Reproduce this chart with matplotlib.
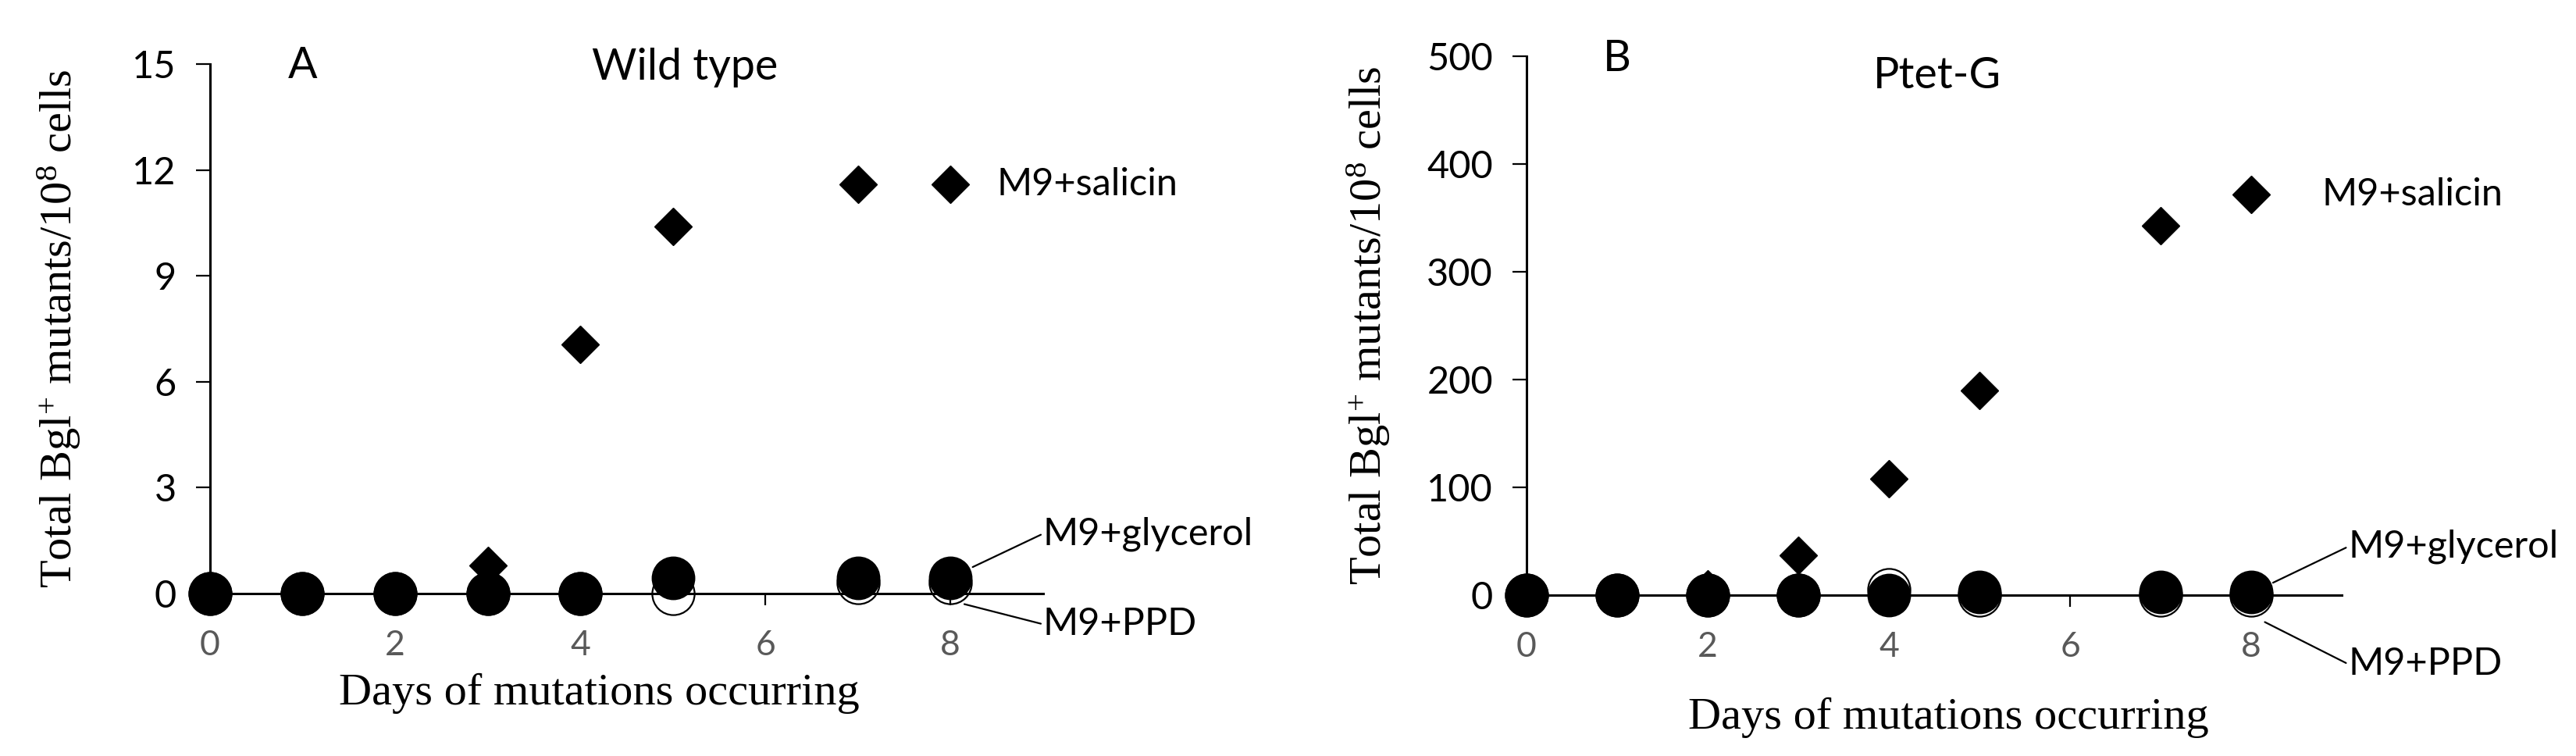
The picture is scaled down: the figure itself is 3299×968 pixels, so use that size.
import matplotlib
matplotlib.use("Agg")
import matplotlib.pyplot as plt

plt.rcParams["font.family"] = ["Lato", "DejaVu Sans"]
plt.rcParams["mathtext.fontset"] = "custom"
plt.rcParams["mathtext.rm"] = "Liberation Serif"
plt.rcParams["mathtext.it"] = "Liberation Serif:italic"

# days sampled (no day 6)
days = [0, 1, 2, 3, 4, 5, 7, 8]

# panel A, wild type
wt_salicin = [0, 0, 0, 0.8, 7.05, 10.4, 11.6, 11.6]
wt_glycerol = [0, 0, 0, 0, 0, 0.45, 0.45, 0.45]
wt_ppd = [0, 0, 0, 0, 0, 0, 0.3, 0.3]

# panel B, Ptet-G
pg_salicin = [0, 0, 6, 37, 108, 190, 343, 372]
pg_glycerol = [0, 0, 0, 0, 0, 3, 3, 3]
pg_ppd = [0, 0, 0, 0, 5, 0, 0, 0]

x_ticks = [0, 2, 4, 6, 8]
wt_yticks = [0, 3, 6, 9, 12, 15]
pg_yticks = [0, 100, 200, 300, 400, 500]

YLABEL = "Total Bgl$^{+}$ mutants/10$^{8}$ cells"
XLABEL = "Days of mutations occurring"
SERIF = "Liberation Serif"
TICK_GRAY = "#595959"


def draw_panel(ax, salicin, glycerol, ppd, yticks, letter, title, cfg):
    top = yticks[-1]
    ax.plot(days, ppd, "o", ms=39, mfc="none", mec="black", mew=1.6,
            clip_on=False, zorder=3)
    ax.plot(days, glycerol, "o", ms=39, mfc="black", mec="black", mew=1.2,
            clip_on=False, zorder=4)
    ax.plot(days, salicin, "D", ms=24, mfc="black", mec="black", mew=1,
            clip_on=False, zorder=5)

    ax.set_xlim(0, 9)
    ax.set_ylim(0, top)
    ax.set_xticks(x_ticks)
    ax.set_yticks(yticks)
    for side in ("top", "right"):
        ax.spines[side].set_visible(False)
    for side in ("left", "bottom"):
        ax.spines[side].set_linewidth(2.2)
    ax.tick_params(axis="y", direction="out", length=13, width=1.6,
                   pad=18, labelsize=35, labelcolor="black")
    ax.tick_params(axis="x", direction="out", length=11, width=1.6,
                   pad=22, labelsize=32, labelcolor=TICK_GRAY)

    ax.set_ylabel(YLABEL, family=SERIF, fontsize=42)
    ax.yaxis.set_label_coords(cfg["ylab_x"], 0.5)
    ax.set_xlabel(XLABEL, family=SERIF, fontsize=42)
    ax.xaxis.set_label_coords(cfg["xlab_x"], cfg["xlab_y"])

    ax.text(1.0, cfg["letter_y"] * top, letter, fontsize=40,
            ha="center", va="baseline")
    ax.text(cfg["title_x"], cfg["title_y"] * top, title, fontsize=40,
            ha="center", va="baseline")

    ax.text(cfg["sal_x"], salicin[-1], "M9+salicin", fontsize=35,
            ha="left", va="center")
    line = dict(arrowstyle="-", lw=1.6, color="black", shrinkA=0, shrinkB=0,
                relpos=(0, 0.5))
    ax.annotate("M9+glycerol", xy=(8.24, cfg["gly_from"] * top),
                xytext=(cfg["lab_x"], cfg["gly_to"] * top), fontsize=35,
                ha="left", va="center", arrowprops=line, annotation_clip=False)
    ax.annotate("M9+PPD", xy=(8.15, cfg["ppd_from"] * top),
                xytext=(cfg["lab_x"], cfg["ppd_to"] * top), fontsize=35,
                ha="left", va="center", arrowprops=line, annotation_clip=False)


fig = plt.figure(figsize=(32.99, 9.68), dpi=100)
ax_a = fig.add_axes([0.0815, 0.2149, 0.3234, 0.7004])
ax_b = fig.add_axes([0.5926, 0.2128, 0.3165, 0.7128])

draw_panel(ax_a, wt_salicin, wt_glycerol, wt_ppd, wt_yticks, "A", "Wild type",
           dict(ylab_x=-0.153, xlab_x=0.467, xlab_y=-0.15,
                letter_y=0.973, title_x=5.13, title_y=0.971,
                sal_x=8.5, lab_x=9.0,
                gly_from=0.05, gly_to=0.113, ppd_from=-0.02, ppd_to=-0.058))
draw_panel(ax_b, pg_salicin, pg_glycerol, pg_ppd, pg_yticks, "B", "Ptet-G",
           dict(ylab_x=-0.165, xlab_x=0.518, xlab_y=-0.19,
                letter_y=0.972, title_x=4.53, title_y=0.94,
                sal_x=8.78, lab_x=9.07,
                gly_from=0.023, gly_to=0.09, ppd_from=-0.05, ppd_to=-0.128))

fig.savefig("out.png", dpi=100)
